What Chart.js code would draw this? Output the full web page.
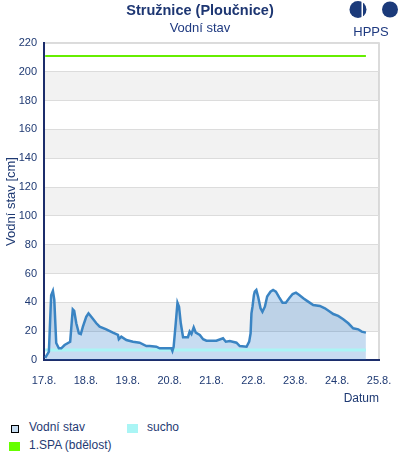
<!DOCTYPE html>
<html>
<head>
<meta charset="utf-8">
<script src="https://cdn.jsdelivr.net/npm/chart.js@4/dist/chart.umd.min.js"></script>
<style>
  html, body { margin: 0; padding: 0; background: #fff; }
  #wrap { position: relative; width: 400px; height: 460px; font-family: "Liberation Sans", Arial, sans-serif; color: #1f3a73; }
  #c { position: absolute; left: 0; top: 0; }
  .title { position: absolute; left: 0; width: 400px; text-align: center; white-space: nowrap; }
  #t1 { top: 2px; font-size: 14.5px; font-weight: bold; color: #1d3672; }
  #t2 { top: 20px; font-size: 13px; color: #1f3a80; }
  #logo { position: absolute; left: 340px; top: 0; }
  #hpps { position: absolute; left: 352px; top: 24px; width: 38px; text-align: center; font-size: 13px; color: #1f3a80; }
  .lg { position: absolute; font-size: 12px; color: #1f3a73; white-space: nowrap; }
  .sw { position: absolute; }
</style>
</head>
<body>
<div id="wrap">
  <canvas id="c" width="400" height="410"></canvas>
  <div class="title" id="t1">Stružnice (Ploučnice)</div>
  <div class="title" id="t2">Vodní stav</div>
  <svg id="logo" width="60" height="22">
    <circle cx="18" cy="9.5" r="8.5" fill="#1b3a7a"/>
    <rect x="21.5" y="0" width="1.5" height="20" fill="#fff"/>
    <circle cx="50" cy="9.5" r="8" fill="#1b3a7a"/>
  </svg>
  <div id="hpps">HPPS</div>
  <div class="sw" style="left:11px;top:425px;width:6px;height:6px;border:1px solid #000;background:#c6dcf0;"></div>
  <div class="lg" style="left:29px;top:420px;">Vodní stav</div>
  <div class="sw" style="left:127px;top:424px;width:11px;height:9px;background:#aaf5f5;"></div>
  <div class="lg" style="left:147px;top:420px;">sucho</div>
  <div class="sw" style="left:9px;top:442px;width:11px;height:9px;background:#66ff00;"></div>
  <div class="lg" style="left:29px;top:438px;">1.SPA (bdělost)</div>
</div>
<script>
// hours since 17.8. 00:00
const hours = [0.7, 2.8, 4.1, 5.1, 5.9, 7.0, 8.5, 9.9, 11.8, 15.0, 16.0, 16.5, 17.3, 18.5, 20.0, 21.1, 22.3, 24.2, 25.5, 27.1, 30.0, 31.9, 35.7, 39.5, 42.4, 42.9, 44.3, 47.2, 51.0, 54.8, 58.7, 60.6, 64.4, 66.3, 73.0, 73.6, 74.3, 75.5, 76.5, 77.4, 78.4, 79.7, 82.5, 83.5, 84.5, 85.8, 87.0, 89.3, 91.2, 93.1, 98.8, 102.6, 104.2, 106.5, 110.3, 112.2, 116.1, 117.6, 118.4, 118.9, 119.5, 120.3, 120.8, 121.7, 122.7, 124.1, 125.2, 126.6, 127.9, 129.8, 131.3, 132.9, 134.8, 136.7, 138.6, 140.5, 142.5, 144.4, 146.3, 148.6, 151.4, 154.3, 158.1, 161.0, 163.9, 165.8, 168.6, 171.5, 174.4, 177.2, 180.1, 182.1, 184.5];
const level = [1.5, 5.8, 45, 48, 41.7, 11.8, 8.1, 8.1, 10.4, 12.7, 27.8, 35.2, 34.2, 25.5, 18.5, 18, 23.1, 30, 32.4, 30, 25.5, 23.1, 21.3, 19, 17.4, 14.4, 16.2, 13.9, 12.7, 12, 9.7, 9.7, 9.2, 8.1, 8.1, 6.3, 9.2, 25.5, 39.8, 37, 25.5, 15.8, 15.8, 19.7, 18, 22.7, 19, 17.4, 14.4, 13.4, 13.4, 15.1, 12.7, 13.2, 12, 9.7, 9.2, 12.7, 18.5, 32.4, 37, 45, 47.4, 48.6, 44, 35.9, 33.5, 37, 44, 47.4, 48.6, 47.4, 43.5, 39.8, 39.8, 42.8, 45.8, 46.7, 45.1, 42.8, 40.5, 38.2, 37.5, 35.9, 33.5, 31.9, 30.6, 28.3, 25.5, 22, 21.3, 19.7, 19];
const suchoLevel = 7;
const spaLevel = 211;
const dayLabels = ['17.8.', '18.8.', '19.8.', '20.8.', '21.8.', '22.8.', '23.8.', '24.8.', '25.8.'];

const first = hours[0], last = hours[hours.length - 1];
const navy = '#1f3a73';
const fontFam = '"Liberation Sans", Arial, sans-serif';

const bands = {
  id: 'bands',
  beforeDraw(chart) {
    const {ctx, chartArea: a, scales: {y}} = chart;
    ctx.save();
    ctx.fillStyle = '#f2f2f2';
    for (let v = 20; v < 220; v += 40) {
      const y1 = y.getPixelForValue(v + 20), y2 = y.getPixelForValue(v);
      ctx.fillRect(a.left, y1, a.right - a.left, y2 - y1);
    }
    ctx.strokeStyle = '#d0d0d0';
    ctx.lineWidth = 1.5;
    ctx.beginPath();
    ctx.moveTo(a.left, a.top);
    ctx.lineTo(a.right, a.top);
    ctx.lineTo(a.right, a.bottom);
    ctx.stroke();
    ctx.restore();
  }
};

new Chart(document.getElementById('c'), {
  type: 'line',
  data: {
    datasets: [
      {
        label: 'Vodní stav',
        data: hours.map((h, i) => ({x: h, y: level[i]})),
        borderColor: '#3a84c3',
        borderWidth: 2.5,
        backgroundColor: 'rgba(20,110,195,0.24)',
        fill: 'origin',
        pointRadius: 0,
        tension: 0,
        order: 0
      },
      {
        label: 'sucho',
        data: [{x: first, y: suchoLevel}, {x: last, y: suchoLevel}],
        borderColor: '#aaf5f5',
        borderWidth: 3,
        pointRadius: 0,
        fill: false,
        order: 2
      },
      {
        label: '1.SPA (bdělost)',
        data: [{x: first, y: spaLevel}, {x: last, y: spaLevel}],
        borderColor: '#66ee00',
        borderWidth: 2,
        pointRadius: 0,
        fill: false,
        order: 1
      }
    ]
  },
  options: {
    responsive: false,
    animation: false,
    layout: { padding: { top: 43, right: 21, left: 0, bottom: 0 } },
    plugins: {
      legend: { display: false },
      tooltip: { enabled: false },
      filler: { drawTime: 'beforeDatasetsDraw' }
    },
    scales: {
      x: {
        type: 'linear',
        min: 0,
        max: 192,
        afterFit(s) { s.height = 50; },
        afterBuildTicks(s) { s.ticks = dayLabels.map((_, i) => ({value: i * 24})); },
        ticks: {
          callback: (v) => dayLabels[Math.round(v / 24)],
          font: { family: fontFam, size: 11 },
          color: navy,
          padding: 6,
          maxRotation: 0,
          autoSkip: false
        },
        grid: { display: false },
        border: { display: true, color: '#1c2d6b', width: 2 },
        title: {
          display: true,
          text: 'Datum',
          align: 'end',
          font: { family: fontFam, size: 12 },
          color: navy
        }
      },
      y: {
        min: 0,
        max: 220,
        afterFit(s) { s.width = 44; },
        ticks: {
          stepSize: 20,
          font: { family: fontFam, size: 11 },
          color: navy,
          padding: 7
        },
        grid: { color: '#dcdcdc', drawTicks: false, lineWidth: 1 },
        border: { display: true, color: '#1c2d6b', width: 2 },
        title: {
          display: true,
          text: 'Vodní stav [cm]',
          font: { family: fontFam, size: 13 },
          color: navy
        }
      }
    }
  },
  plugins: [bands]
});
</script>
</body>
</html>
